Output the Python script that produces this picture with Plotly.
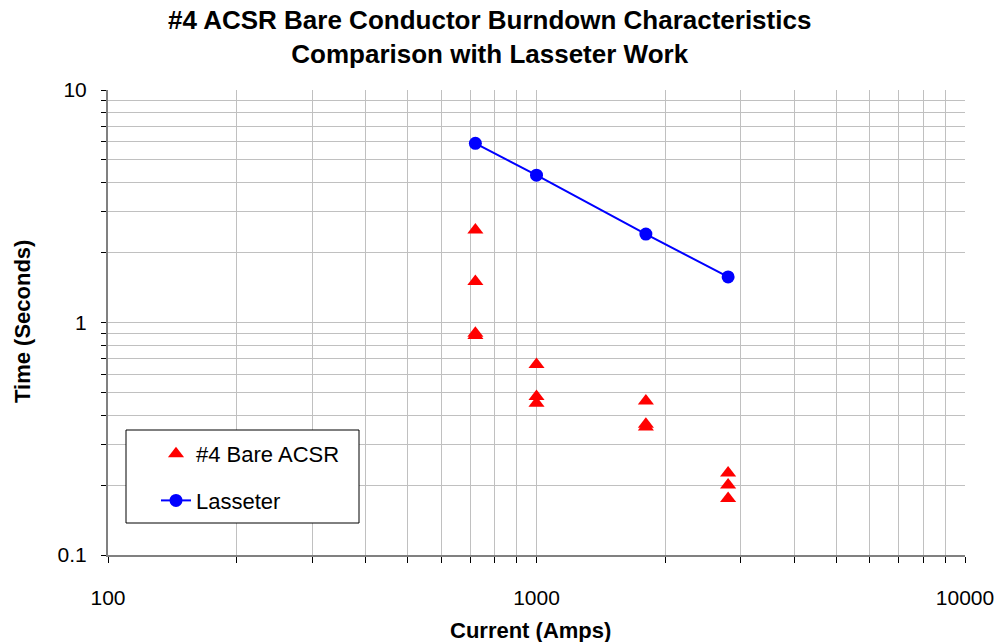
import plotly.graph_objects as go

# Test currents (A) and measured burndown times (s)
bare_current = [720, 720, 720, 720, 1000, 1000, 1000, 1800, 1800, 1800, 2800, 2800, 2800]
bare_time = [2.5, 1.5, 0.9, 0.88, 0.66, 0.48, 0.45, 0.46, 0.365, 0.355, 0.225, 0.2, 0.175]

lasseter_current = [720, 1000, 1800, 2800]
lasseter_time = [5.9, 4.3, 2.4, 1.57]

# Axis grid / tick positions and labels
x_tickvals = [m * 10 ** e for e in (2, 3) for m in range(1, 10)] + [10000]
x_ticktext = [str(v) if v in (100, 1000, 10000) else "" for v in x_tickvals]
y_tickvals = [round(m * 10 ** e, 3) for e in (-1, 0) for m in range(1, 10)] + [10]
y_ticktext = ["0.1" if v == 0.1 else ("1" if v == 1 else ("10" if v == 10 else "")) for v in y_tickvals]

FONT = "Liberation Sans, Arial, sans-serif"
W, H = 999, 642
L, R, T, B = 108, 34, 90, 87
PH = H - T - B


def py(pix):
    """paper y from a pixel row"""
    return (H - B - pix) / PH


def px(pix):
    return (pix - L) / (W - L - R)


fig = go.Figure()
fig.add_trace(go.Scatter(
    x=bare_current, y=bare_time, mode="markers", name="#4 Bare ACSR",
    marker=dict(symbol="triangle-up", size=14, color="#FF0000"),
    legendgroup="a",
))
fig.add_trace(go.Scatter(
    x=lasseter_current, y=lasseter_time, mode="lines+markers", name="Lasseter",
    line=dict(color="#0000FF", width=2),
    marker=dict(symbol="circle", size=13, color="#0000FF"),
    legendgroup="b",
))

common_x = dict(type="log", range=[2, 4], tickvals=x_tickvals, automargin=False)
common_y = dict(type="log", range=[-1, 1], tickvals=y_tickvals, automargin=False)

fig.update_layout(
    width=W, height=H,
    margin=dict(l=L, r=R, t=T, b=B),
    paper_bgcolor="white", plot_bgcolor="white",
    font=dict(family=FONT, size=21, color="black"),
    showlegend=True,
    legend=dict(
        x=px(156), y=py(433), xanchor="left", yanchor="top",
        bgcolor="rgba(0,0,0,0)", borderwidth=0,
        font=dict(size=22), tracegroupgap=15,
    ),
    xaxis=dict(
        **common_x, ticktext=x_ticktext,
        showgrid=True, gridcolor="#c0c0c0", gridwidth=1,
        showline=True, linecolor="#808080", linewidth=2,
        ticks="outside", ticklen=6, tickcolor="black", tickwidth=1,
        ticklabelstandoff=17, zeroline=False,
    ),
    yaxis=dict(
        **common_y, ticktext=y_ticktext,
        showgrid=True, gridcolor="#c0c0c0", gridwidth=1,
        showline=True, linecolor="#808080", linewidth=2,
        ticks="outside", ticklen=5, tickcolor="black", tickwidth=1,
        ticklabelstandoff=10, zeroline=False,
    ),
    # companion axes carrying the inner half of the crossing tick marks
    xaxis2=dict(
        **common_x, overlaying="x", anchor="y", side="bottom",
        showgrid=False, showline=False, showticklabels=False,
        ticks="inside", ticklen=4, tickcolor="black", tickwidth=1,
    ),
    yaxis2=dict(
        **common_y, overlaying="y", anchor="x", side="left",
        showgrid=False, showline=False, showticklabels=False,
        ticks="inside", ticklen=5, tickcolor="black", tickwidth=1,
    ),
    shapes=[dict(
        type="rect", xref="paper", yref="paper",
        x0=px(126), x1=px(359), y0=py(523), y1=py(430),
        line=dict(color="black", width=1), fillcolor="white", layer="above",
    )],
    annotations=[
        dict(text="<b>#4 ACSR Bare Conductor Burndown Characteristics<br>Comparison with Lasseter Work</b>",
             xref="paper", yref="paper", x=px(489), y=py(37),
             xanchor="center", yanchor="middle", showarrow=False,
             font=dict(size=26, family=FONT)),
        dict(text="<b>Current (Amps)</b>", xref="paper", yref="paper",
             x=px(530), y=py(630), xanchor="center", yanchor="middle",
             showarrow=False, font=dict(size=22, family=FONT)),
        dict(text="<b>Time (Seconds)</b>", xref="paper", yref="paper",
             x=px(22), y=py(322), xanchor="center", yanchor="middle",
             textangle=-90, showarrow=False, font=dict(size=22, family=FONT)),
    ],
)

fig.write_html("out.html")
